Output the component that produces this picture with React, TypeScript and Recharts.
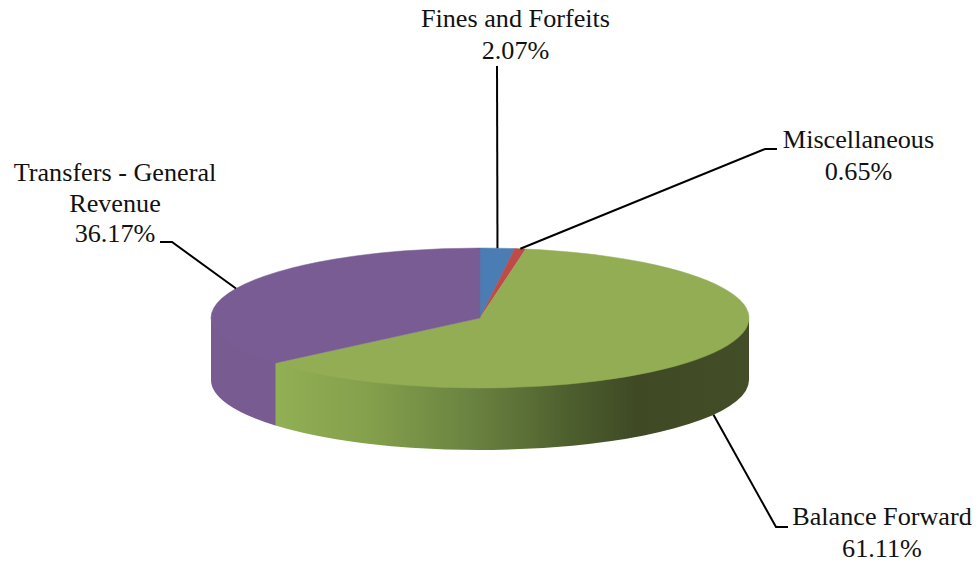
import { PieChart, Pie } from "recharts";

const categories = ["Fines and Forfeits", "Miscellaneous", "Balance Forward", "Transfers - General Revenue"];
const shares = [2.07, 0.65, 61.11, 36.17];
const colors = ["#4A7DB3", "#BE4B48", "#92AD54", "#7A5C95"];

// the label text, broken the way the picture breaks it
const labelLines = [["Fines and Forfeits"], ["Miscellaneous"], ["Balance Forward"], ["Transfers - General", "Revenue"]];

// text centre, first baseline, line gap, leader elbow and end of the horizontal tick
const labelLayout = [
  { x: 515.5, y: 27, gap: 32, elbow: [497, 66], tick: [497, 66], onWall: false },
  { x: 858.5, y: 148, gap: 32, elbow: [765, 149], tick: [777, 149], onWall: false },
  { x: 882, y: 525, gap: 32, elbow: [776, 527], tick: [788, 527], onWall: true },
  { x: 115, y: 181, gap: 30.5, elbow: [172, 242], tick: [160, 242], onWall: false },
];

const TILT = 70 / 269;
const DEPTH = 62;

const point = (cx: number, cy: number, rx: number, clock: number, drop = 0) => {
  const r = (clock * Math.PI) / 180;
  return [cx + rx * Math.sin(r), cy - rx * TILT * Math.cos(r) + drop];
};

function DiscSlice(props: any) {
  const { cx, cy, outerRadius: rx, startAngle, endAngle, fill, index } = props;
  const from = 90 - startAngle;
  const to = 90 - endAngle;
  const ry = rx * TILT;
  const [x0, y0] = point(cx, cy, rx, from);
  const [x1, y1] = point(cx, cy, rx, to);
  const large = to - from > 180 ? 1 : 0;
  const top = `M${cx},${cy} L${x0},${y0} A${rx},${ry} 0 ${large} 1 ${x1},${y1} Z`;

  // only the front half of the rim shows, from 90 to 270 on the clock
  const wallFrom = Math.max(from, 90) - (index === 3 ? 0.3 : 0);
  const wallTo = Math.min(to, 270);
  let wall = null;
  if (wallTo > wallFrom) {
    const [a0, b0] = point(cx, cy, rx, wallFrom);
    const [a1, b1] = point(cx, cy, rx, wallTo);
    // top edge raised a little under the disc so no seam shows
    const d = `M${a0},${b0 - 2} A${rx},${ry} 0 0 1 ${a1},${b1 - 2} L${a1},${b1 + DEPTH} A${rx},${ry} 0 0 0 ${a0},${b0 + DEPTH} Z`;
    wall = <path d={d} fill={index === 2 ? "url(#greenWall)" : "#775B91"} />;
  }
  return (
    <g>
      {wall}
      <path d={top} fill={fill} stroke={fill} strokeWidth={0.5} />
    </g>
  );
}

function SliceLabel(props: any) {
  const { cx, cy, outerRadius, midAngle, index } = props;
  const layout = labelLayout[index];
  const [ax, ay] = point(cx, cy, outerRadius, 90 - midAngle, layout.onWall ? DEPTH : 0);
  const lines = labelLines[index];
  const leader = `${ax},${ay} ${layout.elbow.join(",")} ${layout.tick.join(",")}`;
  return (
    <g>
      <polyline points={leader} fill="none" stroke="#000" strokeWidth={2} />
      <text x={layout.x} textAnchor="middle" fontFamily="'Liberation Serif', serif" fontSize={26.2} fill="#111">
        {lines.map((t, i) => (
          <tspan key={t} x={layout.x} y={layout.y + i * layout.gap}>
            {t}
          </tspan>
        ))}
        <tspan x={layout.x} y={layout.y + lines.length * layout.gap}>
          {shares[index].toFixed(2)}%
        </tspan>
      </text>
    </g>
  );
}

const chartData = categories.map((name, i) => ({ name, value: shares[i], fill: colors[i] }));

export default function App() {
  return (
    <div style={{ position: "absolute", left: 0, top: 0, width: 979, height: 565, background: "#fff" }}>
      <PieChart width={979} height={565} margin={{ top: 0, right: 0, bottom: 0, left: 0 }}>
        <defs>
          <linearGradient id="greenWall" gradientUnits="userSpaceOnUse" x1={273} x2={750} y1={0} y2={0}>
            <stop offset="0" stopColor="#92B054" />
            <stop offset="0.2" stopColor="#84A04C" />
            <stop offset="0.42" stopColor="#6A8240" />
            <stop offset="0.62" stopColor="#4E5F2E" />
            <stop offset="0.76" stopColor="#3F4A25" />
            <stop offset="1" stopColor="#434E28" />
          </linearGradient>
        </defs>
        <Pie
          data={chartData}
          dataKey="value"
          nameKey="name"
          cx={480}
          cy={318}
          innerRadius={0}
          outerRadius={269}
          startAngle={90}
          endAngle={-270}
          stroke="none"
          shape={DiscSlice}
          label={SliceLabel}
          labelLine={false}
          isAnimationActive={false}
        />
      </PieChart>
    </div>
  );
}
